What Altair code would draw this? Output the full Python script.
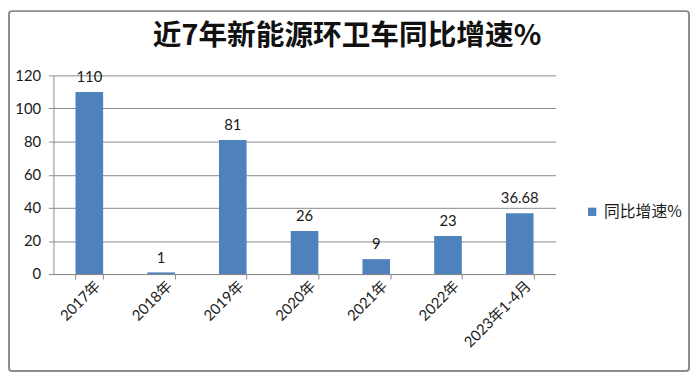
import altair as alt
import pandas as pd

categories = ["2017年", "2018年", "2019年", "2020年", "2021年", "2022年", "2023年1-4月"]
values = [110, 1, 81, 26, 9, 23, 36.68]
labels = ["110", "1", "81", "26", "9", "23", "36.68"]
series_name = "同比增速%"
y_ticks = [0, 20, 40, 60, 80, 100, 120]
title_text = "近7年新能源环卫车同比增速%"

FONT = "Lato, 'Noto Sans CJK SC', sans-serif"
CJK = "'Noto Sans CJK SC', sans-serif"

df = pd.DataFrame({"cat": categories, "val": values, "lab": labels, "series": [series_name] * len(categories)})

W, H = 508, 201
PL, PT = 46, 66
TOTAL_W, TOTAL_H = 692, 371

y_axis = alt.Axis(
    values=y_ticks,
    tickCount=7,
    labelOverlap=False,
    labelFont=FONT,
    labelFontSize=15,
    labelColor="#1a1a1a",
    labelPadding=8,
    tickSize=5,
    tickColor="#8a8a8a",
    domainColor="#8a8a8a",
    grid=True,
    gridColor="#8a8a8a",
    gridWidth=1,
)

base = alt.Chart(df).encode(
    x=alt.X(
        "cat:N",
        sort=categories,
        title=None,
        scale=alt.Scale(paddingInner=0.615, paddingOuter=0.3075),
        axis=alt.Axis(
            labelAngle=-45,
            labelAlign="right",
            labelBaseline="middle",
            labelFont=FONT,
            labelFontSize=15,
            labelColor="#1a1a1a",
            labelPadding=4,
            labelOffset=8,
            tickBand="extent",
            tickSize=5,
            tickColor="#8a8a8a",
            domainColor="#8a8a8a",
            grid=False,
        ),
    ),
    y=alt.Y(
        "val:Q",
        title=None,
        scale=alt.Scale(domain=[0, 120], nice=False),
        axis=y_axis,
    ),
)

bars = base.mark_bar(color="#4F81BD").encode(
    color=alt.Color(
        "series:N",
        scale=alt.Scale(range=["#4F81BD"]),
        legend=alt.Legend(
            orient="none",
            legendX=537,
            legendY=130,
            title=None,
            symbolType="square",
            symbolSize=70,
            symbolStrokeWidth=0,
            labelFont=CJK,
            labelFontSize=16,
            labelColor="#1a1a1a",
        ),
    ),
)

text = base.mark_text(
    baseline="bottom", dy=-7, font=FONT, fontSize=15, color="#1a1a1a"
).encode(text="lab:N")

one = pd.DataFrame({"t": [title_text]})

border = alt.Chart(one).mark_rect(
    fill="transparent", stroke="#8c8c8c", strokeWidth=2, cornerRadius=3
).encode(
    x=alt.value(-45), x2=alt.value(643), y=alt.value(-65), y2=alt.value(299)
)

title = alt.Chart(one).mark_text(
    font=CJK, fontSize=29, fontWeight="bold", color="#111111",
    align="center", baseline="middle",
).encode(x=alt.value(297), y=alt.value(-40), text="t:N")

chart = alt.layer(border, bars, text, title).properties(
    width=W,
    height=H,
    autosize=alt.AutoSizeParams(type="none"),
    padding={"left": PL, "top": PT, "right": TOTAL_W - PL - W, "bottom": TOTAL_H - PT - H},
    background="white",
).configure_view(strokeWidth=0)

chart.save("out.html", embed_options={"renderer": "svg", "actions": False})
